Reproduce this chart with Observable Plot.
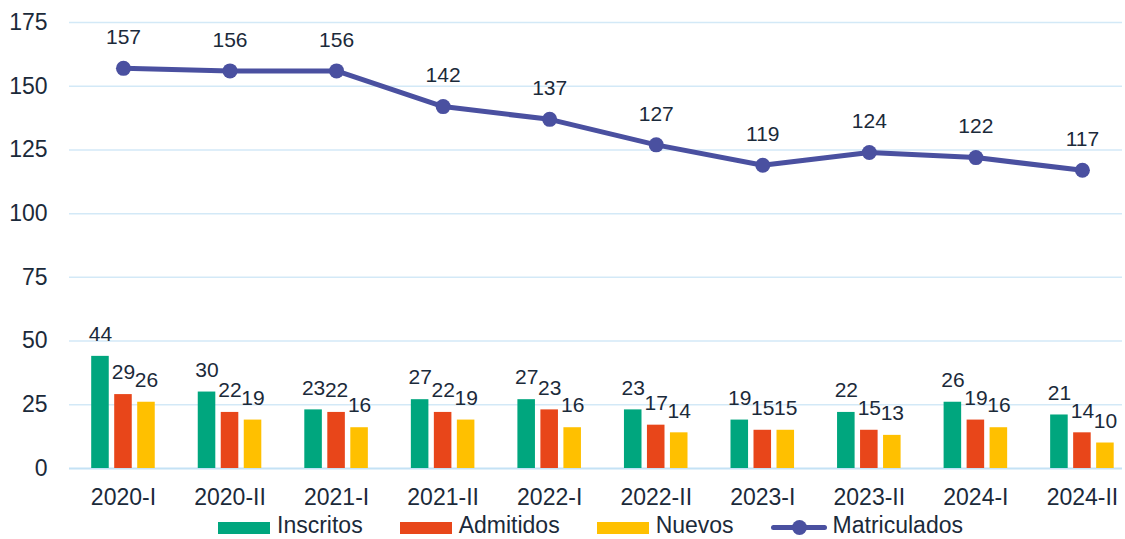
<!DOCTYPE html>
<html>
<head>
<meta charset="utf-8">
<script src="https://cdn.jsdelivr.net/npm/d3@7"></script>
<script src="https://cdn.jsdelivr.net/npm/@observablehq/plot@0.6"></script>
<style>
  body { margin: 0; background: #fff; font-family: "Liberation Sans", Arial, sans-serif; }
  #wrap { position: relative; width: 1125px; height: 539px; }
  #legend { position: absolute; left: 218px; top: 514px; display: flex; align-items: center; font-size: 23px; line-height: 23px; height: 23px; color: #1b2a3a; white-space: nowrap; }
  .item { display: flex; align-items: center; margin-right: 37px; }
  .sw { width: 52px; height: 12px; margin-right: 7px; margin-top: 4px; }
  .ln { position: relative; width: 56px; height: 5px; margin-right: 6px; margin-top: 4px; border-radius: 3px; }
  .ln::after { content: ""; position: absolute; left: 21px; top: -5px; width: 15px; height: 15px; border-radius: 50%; background: inherit; }
</style>
</head>
<body>
<div id="wrap">
  <div id="chart"></div>
  <div id="legend"></div>
</div>
<script>
const periods = ["2020-I","2020-II","2021-I","2021-II","2022-I","2022-II","2023-I","2023-II","2024-I","2024-II"];
const inscritos = [44,30,23,27,27,23,19,22,26,21];
const admitidos = [29,22,22,22,23,17,15,15,19,14];
const nuevos = [26,19,16,19,16,14,15,13,16,10];
const matriculados = [157,156,156,142,137,127,119,124,122,117];
const yTicks = [0,25,50,75,100,125,150,175];
const seriesNames = ["Inscritos","Admitidos","Nuevos","Matriculados"];
const colors = ["#00a67e","#e8461a","#ffc000","#4a50a0"];

const rows = (vals) => periods.map((p, i) => ({period: p, value: vals[i]}));
const dIns = rows(inscritos), dAdm = rows(admitidos), dNue = rows(nuevos), dMat = rows(matriculados);

const txtColor = "#1b2a3a";
const barOpts = {x: "period", y: "value", insetLeft: 44.5, insetRight: 44.5};
const lblOpts = {x: "period", y: "value", text: d => String(d.value), dy: -22, fontSize: 21, fill: txtColor};

const chart = Plot.plot({
  width: 1125,
  height: 512,
  marginLeft: 69,
  marginRight: 3,
  marginTop: 22,
  marginBottom: 44,
  style: {fontSize: "23px", fontFamily: "'Liberation Sans', Arial, sans-serif", color: txtColor, background: "#fff"},
  x: {domain: periods, range: [69.7, 1135.2], padding: 0, round: false, tickSize: 0, tickPadding: 20, label: null},
  y: {domain: [0, 175], ticks: yTicks, tickSize: 0, tickPadding: 22, label: null},
  marks: [
    Plot.ruleY(yTicks.filter(t => t > 0), {stroke: "#d3e9f7", strokeWidth: 1.5}),
    Plot.ruleY([0], {stroke: "#c4e2f5", strokeWidth: 2}),
    Plot.barY(dIns, {...barOpts, fill: colors[0], dx: -23}),
    Plot.barY(dAdm, {...barOpts, fill: colors[1]}),
    Plot.barY(dNue, {...barOpts, fill: colors[2], dx: 23}),
    Plot.text(dIns, {...lblOpts, dx: -23}),
    Plot.text(dAdm, {...lblOpts}),
    Plot.text(dNue, {...lblOpts, dx: 23}),
    Plot.line(dMat, {x: "period", y: "value", stroke: colors[3], strokeWidth: 5}),
    Plot.dot(dMat, {x: "period", y: "value", r: 7.5, fill: colors[3]}),
    Plot.text(dMat, {x: "period", y: "value", text: d => String(d.value), dy: -31, fontSize: 21, fill: txtColor})
  ]
});
document.getElementById("chart").appendChild(chart);

const legend = document.getElementById("legend");
seriesNames.forEach((name, i) => {
  const it = document.createElement("div");
  it.className = "item";
  const sw = document.createElement("div");
  sw.className = i === 3 ? "ln" : "sw";
  sw.style.background = colors[i];
  it.appendChild(sw);
  const t = document.createElement("span");
  t.textContent = name;
  it.appendChild(t);
  legend.appendChild(it);
});
</script>
</body>
</html>
